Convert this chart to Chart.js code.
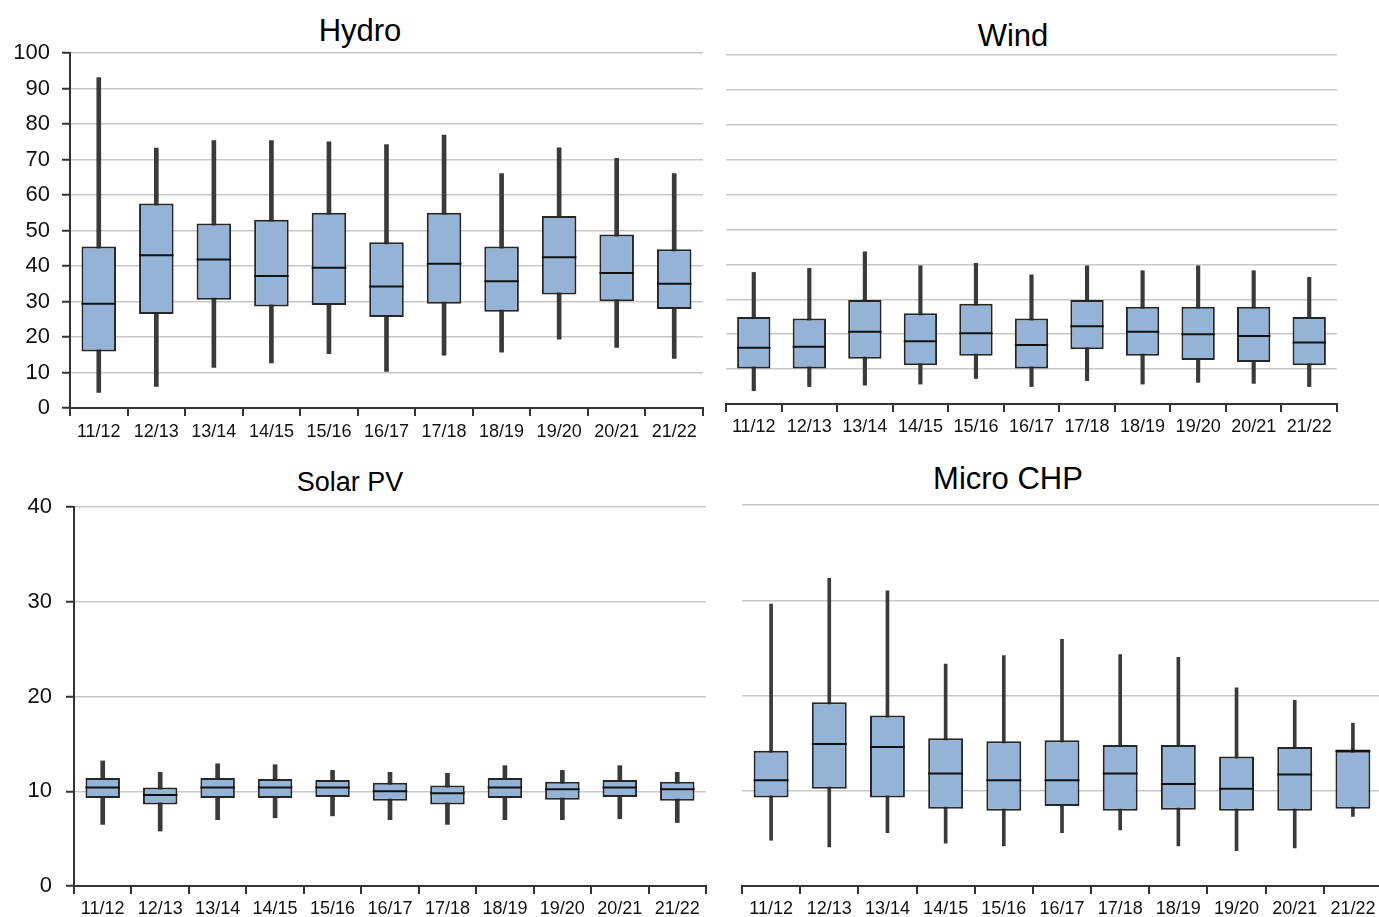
<!DOCTYPE html>
<html>
<head>
<meta charset="utf-8">
<script src="https://cdn.jsdelivr.net/npm/chart.js@4.4.1/dist/chart.umd.min.js"></script>
<style>
    body { margin: 0; background: #fff; width: 1379px; height: 917px; overflow: hidden; position: relative; font-family: "Liberation Sans", Arial, sans-serif; }
    .panel { position: absolute; }
    .title { position: absolute; transform: translate(-50%, -50%); white-space: nowrap; color: #000; }
</style>
</head>
<body>
<div class="title" style="left:360px; top:31px; font-size:31px;">Hydro</div>
<div class="title" style="left:1013px; top:36px; font-size:31px;">Wind</div>
<div class="title" style="left:350px; top:482px; font-size:27px;">Solar PV</div>
<div class="title" style="left:1008px; top:479px; font-size:31px;">Micro CHP</div>

<div class="panel" style="left:0; top:0; width:720px; height:455px;"><canvas id="hydro-chart"></canvas></div>
<div class="panel" style="left:700px; top:0; width:679px; height:455px;"><canvas id="wind-chart"></canvas></div>
<div class="panel" style="left:0; top:455px; width:720px; height:462px;"><canvas id="solar-chart"></canvas></div>
<div class="panel" style="left:720px; top:455px; width:662px; height:462px;"><canvas id="chp-chart"></canvas></div>

<script>
const categories = ['11/12', '12/13', '13/14', '14/15', '15/16', '16/17', '17/18', '18/19', '19/20', '20/21', '21/22'];

// Hydro
const hydroLow  = [4.4, 6.1, 11.4, 12.7, 15.3, 10.3, 14.9, 15.7, 19.4, 17.1, 14.0];
const hydroQ1   = [15.9, 26.5, 30.5, 28.6, 29.0, 25.6, 29.4, 27.1, 32.0, 30.1, 27.9];
const hydroMed  = [29.4, 43.0, 41.8, 37.2, 39.5, 34.2, 40.6, 35.7, 42.5, 38.0, 35.0];
const hydroQ3   = [45.5, 57.6, 52.0, 53.0, 55.0, 46.7, 55.0, 45.5, 54.1, 48.9, 44.7];
const hydroHigh = [93.1, 73.2, 75.3, 75.3, 75.0, 74.2, 76.9, 66.0, 73.3, 70.3, 66.0];

// Wind
const windLow  = [3.8, 5.0, 5.4, 5.7, 7.3, 5.0, 6.7, 5.7, 6.2, 5.9, 5.0];
const windQ1   = [10.2, 10.2, 13.0, 11.1, 13.8, 10.2, 15.7, 13.8, 12.6, 12.0, 11.1];
const windMed  = [16.1, 16.4, 20.7, 18.0, 20.3, 16.9, 22.3, 20.7, 20.0, 19.5, 17.6];
const windQ3   = [24.9, 24.5, 29.8, 26.0, 28.7, 24.5, 29.8, 27.9, 27.9, 27.9, 24.9];
const windHigh = [37.7, 38.9, 43.6, 39.6, 40.3, 37.0, 39.6, 38.2, 39.6, 38.2, 36.3];

// Solar PV
const solarLow  = [6.5, 5.8, 7.0, 7.2, 7.4, 7.0, 6.5, 7.0, 7.0, 7.1, 6.7];
const solarQ1   = [9.3, 8.6, 9.3, 9.3, 9.4, 9.0, 8.6, 9.3, 9.1, 9.4, 9.0];
const solarMed  = [10.4, 9.6, 10.4, 10.4, 10.4, 10.0, 9.8, 10.4, 10.2, 10.4, 10.2];
const solarQ3   = [11.4, 10.4, 11.4, 11.3, 11.2, 10.9, 10.6, 11.4, 11.0, 11.2, 11.0];
const solarHigh = [13.2, 12.0, 12.9, 12.8, 12.2, 12.0, 11.9, 12.7, 12.2, 12.7, 12.0];

// Micro CHP
const chpLow  = [4.8, 4.1, 5.6, 4.5, 4.2, 5.6, 5.9, 4.2, 3.7, 4.0, 7.3];
const chpQ1   = [9.3, 10.2, 9.3, 8.1, 7.9, 8.4, 7.9, 8.0, 7.9, 7.9, 8.1];
const chpMed  = [11.1, 14.9, 14.6, 11.8, 11.1, 11.1, 11.8, 10.7, 10.2, 11.7, 14.2];
const chpQ3   = [14.2, 19.3, 17.9, 15.5, 15.2, 15.3, 14.8, 14.8, 13.6, 14.6, 14.2];
const chpHigh = [29.6, 32.3, 31.0, 23.3, 24.2, 25.9, 24.3, 24.0, 20.8, 19.5, 17.1];

const hydroTicks = [0, 10, 20, 30, 40, 50, 60, 70, 80, 90, 100];
const smallTicks = [0, 10, 20, 30, 40];

const pair = (a, b) => a.map((v, i) => [v, b[i]]);

const renderBoxChart = (canvasId, cfg) => {
    const ctx = document.getElementById(canvasId).getContext('2d');

    new Chart(ctx, {
        type: 'bar',
        data: {
            labels: categories,
            datasets: [
                {
                    // whiskers
                    data: pair(cfg.low, cfg.high),
                    backgroundColor: '#3a3a3a',
                    borderWidth: 0,
                    barThickness: cfg.whisker,
                    grouped: false,
                    order: 3
                },
                {
                    // boxes
                    data: pair(cfg.q1, cfg.q3),
                    backgroundColor: '#95b3d7',
                    borderColor: '#262626',
                    borderWidth: 2,
                    borderSkipped: false,
                    barPercentage: 0.6,
                    categoryPercentage: 1,
                    grouped: false,
                    order: 2
                },
                {
                    // medians
                    type: 'line',
                    data: cfg.med,
                    showLine: false,
                    pointStyle: 'line',
                    pointRadius: (c) => c.chart.chartArea ? c.chart.chartArea.width / categories.length * 0.3 : 17,
                    pointBorderWidth: 2,
                    pointBorderColor: '#111',
                    order: 1
                }
            ]
        },
        options: {
            responsive: true,
            maintainAspectRatio: false,
            animation: false,
            layout: {
                autoPadding: false,
                padding: { top: cfg.padTop, right: cfg.padRight, left: 0, bottom: 0 }
            },
            plugins: { legend: { display: false }, tooltip: { enabled: false } },
            scales: {
                x: {
                    offset: true,
                    grid: { drawOnChartArea: false, color: '#333', lineWidth: 2, tickLength: 8, offset: true },
                    border: { color: '#333', width: 2 },
                    ticks: { color: '#111', padding: cfg.xPad, font: { family: 'Liberation Sans', size: 18 }, maxRotation: 0, autoSkip: false },
                    afterFit: (s) => {
                        s.height = cfg.xHeight;
                        s.paddingLeft = 0;
                        s.paddingRight = 0;
                    }
                },
                y: {
                    min: 0,
                    max: cfg.ticks[cfg.ticks.length - 1],
                    afterBuildTicks: (s) => { s.ticks = cfg.ticks.map(v => ({ value: v })); },
                    grid: {
                        color: '#c8c8c8',
                        lineWidth: 1.5,
                        drawTicks: cfg.showY,
                        tickLength: 8,
                        tickColor: '#333',
                        tickWidth: 2
                    },
                    border: { display: cfg.showY, color: '#333', width: 2 },
                    ticks: { display: cfg.showY, color: '#111', padding: cfg.yPad, font: { family: 'Liberation Sans', size: 22 } },
                    afterFit: (s) => { s.width = cfg.yWidth; }
                }
            }
        }
    });
};

renderBoxChart('hydro-chart', {
    low: hydroLow, q1: hydroQ1, med: hydroMed, q3: hydroQ3, high: hydroHigh, ticks: hydroTicks,
    showY: true, yWidth: 70, yPad: 12, xHeight: 47, xPad: 5, padTop: 53, padRight: 17, whisker: 4
});

renderBoxChart('wind-chart', {
    low: windLow, q1: windQ1, med: windMed, q3: windQ3, high: windHigh, ticks: hydroTicks,
    showY: false, yWidth: 26, yPad: 0, xHeight: 51, xPad: 4, padTop: 55, padRight: 42, whisker: 3.5
});

renderBoxChart('solar-chart', {
    low: solarLow, q1: solarQ1, med: solarMed, q3: solarQ3, high: solarHigh, ticks: smallTicks,
    showY: true, yWidth: 74, yPad: 14, xHeight: 31, xPad: 4, padTop: 52, padRight: 14, whisker: 4
});

renderBoxChart('chp-chart', {
    low: chpLow, q1: chpQ1, med: chpMed, q3: chpQ3, high: chpHigh, ticks: smallTicks,
    showY: false, yWidth: 22, yPad: 0, xHeight: 31, xPad: 4, padTop: 50, padRight: 0, whisker: 3
});
</script>
</body>
</html>
